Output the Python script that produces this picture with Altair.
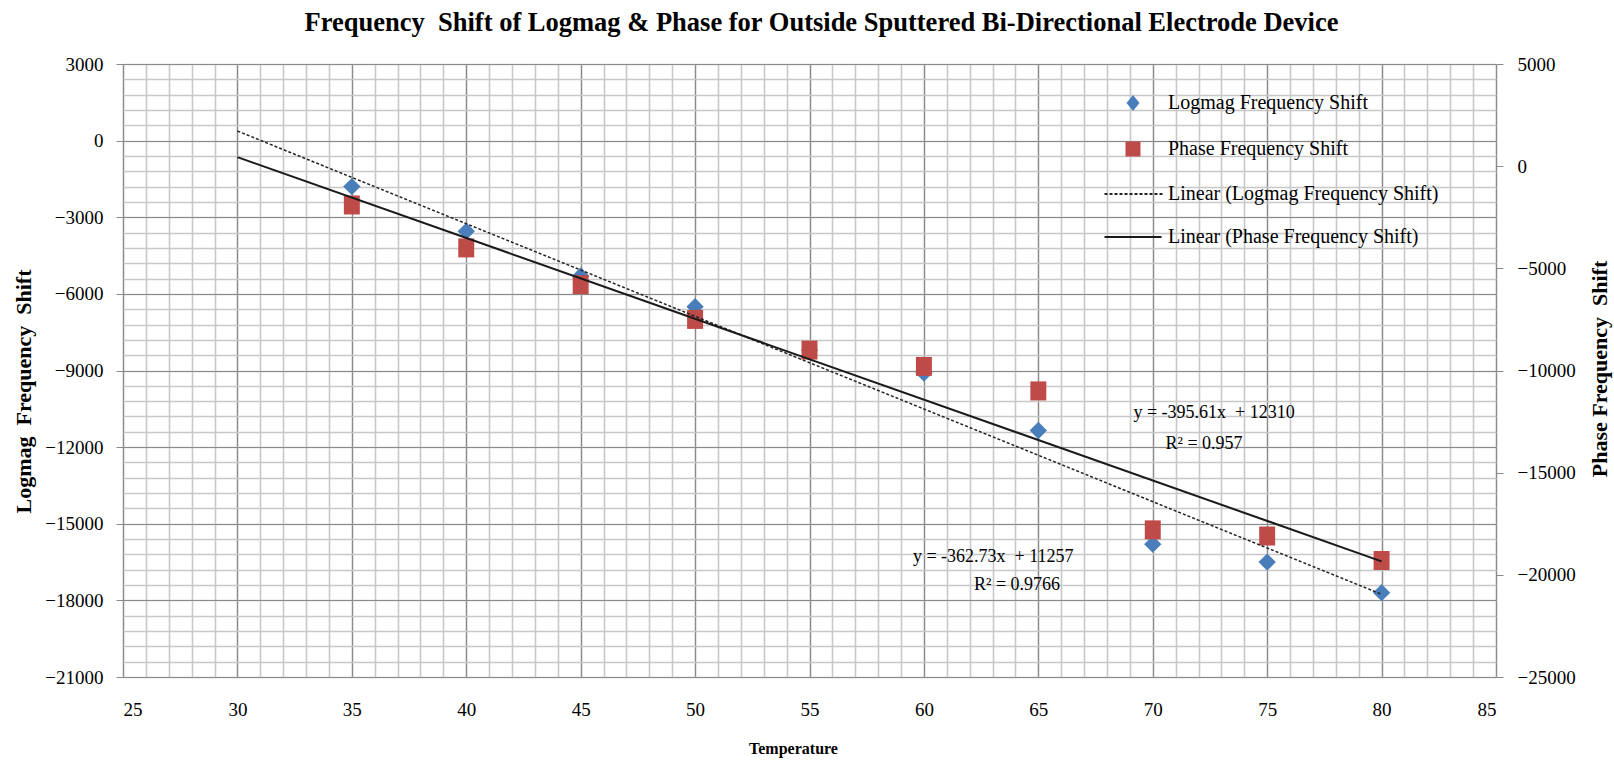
import altair as alt
import pandas as pd

# ---------------- data ----------------
temps = [35, 40, 45, 50, 55, 60, 65, 70, 75, 80]
logmag = [-1800, -3550, -5300, -6500, -8200, -9100, -11350, -15800, -16500, -17700]
phase = [-1900, -4000, -5800, -7500, -9000, -9800, -11000, -17800, -18100, -19300]

logmag_slope, logmag_intercept = -362.73, 11257
phase_slope, phase_intercept = -395.61, 12310
trend_x = [30, 80]

x_domain = [25, 85]
left_domain = [-21000, 3000]
right_domain = [-25000, 5000]
x_major = list(range(25, 86, 5))
x_minor = list(range(25, 86, 1))
left_major = list(range(-21000, 3001, 3000))
left_minor = list(range(-21000, 3001, 600))
right_major = list(range(-25000, 5001, 5000))

series_names = ["Logmag Frequency Shift", "Phase Frequency Shift",
                "Linear (Logmag Frequency Shift)", "Linear (Phase Frequency Shift)"]

NB = "\u00a0"
ann_text = [f"y = -395.61x{NB} + 12310", "R² = 0.957", f"y = -362.73x{NB} + 11257", "R² = 0.9766"]
ann_x = [72.68, 72.24, 63.03, 64.07]
ann_y = [-10664, -11862, -16298, -17386]

title_text = f"Frequency{NB} Shift of Logmag & Phase for Outside Sputtered Bi-Directional Electrode Device"
left_title = f"Logmag{NB} Frequency{NB} Shift"
right_title = f"Phase Frequency{NB} Shift"

# ---------------- styles ----------------
FONT = "Liberation Serif"
BLUE = "#4A7EBB"
RED = "#BE4B48"
MAJOR = "#8a8a8a"
MINOR = "#c8c8c8"
LBL = dict(labelFont=FONT, labelFontSize=19, labelColor="black", format="d")

W, H = 1373, 613

df_log = pd.DataFrame({"t": temps, "v": logmag})
df_ph = pd.DataFrame({"t": temps, "v": phase})
df_trend = pd.DataFrame({"t": trend_x})
df_ann = pd.DataFrame({"text": ann_text, "x": ann_x, "y": ann_y})
df_leg = pd.DataFrame({"s": series_names})

xs = alt.Scale(domain=x_domain, nice=False, zero=False)
ls = alt.Scale(domain=left_domain, nice=False, zero=False)
rs = alt.Scale(domain=right_domain, nice=False, zero=False)

# minor grid layer (invisible marks, carries minor grid axes)
minor = alt.Chart(df_log).mark_point(opacity=0).encode(
    x=alt.X("t:Q", scale=xs, axis=alt.Axis(values=x_minor, grid=True, gridColor=MINOR, gridWidth=1.6,
                                           labels=False, ticks=False, domain=False, title=None,
                                           orient="bottom")),
    y=alt.Y("v:Q", scale=ls, axis=alt.Axis(values=left_minor, grid=True, gridColor=MINOR, gridWidth=1.6,
                                           labels=False, ticks=False, domain=False, title=None,
                                           orient="left")),
)

diamond = "M0,-1L1,0L0,1L-1,0Z"
rect = "M-0.84,-1L0.84,-1L0.84,1L-0.84,1Z"

log_pts = alt.Chart(df_log).mark_point(filled=True, shape=diamond, size=300, color=BLUE, opacity=1).encode(
    x=alt.X("t:Q", scale=xs, axis=alt.Axis(values=x_major, grid=True, gridColor=MAJOR, gridWidth=1.2,
                                           ticks=False, domain=False, labelPadding=23, orient="bottom",
                                           title="Temperature", titleFont=FONT, titleFontSize=16,
                                           titleFontWeight="bold", titleX=670, titleY=71,
                                           titleBaseline="middle", titleAlign="center",
                                           titleColor="black", **LBL)),
    y=alt.Y("v:Q", scale=ls, axis=alt.Axis(values=left_major, grid=True, gridColor=MAJOR, gridWidth=1.2,
                                           ticks=True, tickColor=MAJOR, tickSize=7, domain=False,
                                           labelPadding=13, orient="left",
                                           title=left_title, titleFont=FONT,
                                           titleFontSize=22, titleFontWeight="bold",
                                           titleAngle=270, titleX=-100, titleY=327,
                                           titleAlign="center", titleBaseline="middle",
                                           titleColor="black", **LBL)),
)

ph_pts = alt.Chart(df_ph).mark_point(filled=True, shape=rect, size=361, color=RED, opacity=1).encode(
    x=alt.X("t:Q", scale=xs, axis=None),
    y=alt.Y("v:Q", scale=rs, axis=alt.Axis(values=right_major, grid=False, ticks=True, tickColor=MAJOR,
                                           tickSize=7, domain=False, labelPadding=14, orient="right",
                                           title=right_title, titleFont=FONT,
                                           titleFontSize=22, titleFontWeight="bold",
                                           titleAngle=270, titleX=103, titleY=H / 2 - 2,
                                           titleAlign="center", titleBaseline="middle",
                                           titleColor="black", **LBL)),
)

log_trend = alt.Chart(df_trend).transform_calculate(
    v=f"{logmag_slope}*datum.t + {logmag_intercept}"
).mark_line(color="#222222", strokeWidth=1.5, strokeDash=[3, 2]).encode(
    x=alt.X("t:Q", scale=xs, axis=None),
    y=alt.Y("v:Q", scale=ls, axis=None),
)

ph_trend = alt.Chart(df_trend).transform_calculate(
    v=f"{phase_slope}*datum.t + {phase_intercept}"
).mark_line(color="#1a1a1a", strokeWidth=2).encode(
    x=alt.X("t:Q", scale=xs, axis=None),
    y=alt.Y("v:Q", scale=rs, axis=None),
)

ann = alt.Chart(df_ann).mark_text(font=FONT, fontSize=18, color="black", align="center",
                                  baseline="middle").encode(
    x=alt.X("x:Q", scale=xs, axis=None),
    y=alt.Y("y:Q", scale=ls, axis=None),
    text="text:N",
)

# legend (custom symbols)
L = 2.85
dash_path = "".join(f"M{(-L + i * 0.5):.2f},0h0.3" for i in range(12))
solid_path = f"M{-L},0L{L},0"
leg_diamond = "M0,-0.8L0.65,0L0,0.8L-0.65,0Z"
leg_square = "M-0.75,-0.75L0.75,-0.75L0.75,0.75L-0.75,0.75Z"

leg_common = dict(orient="none", legendX=999, legendY=28, title=None, labelFont=FONT,
                  labelFontSize=20, labelColor="black", labelOffset=24, rowPadding=22,
                  symbolSize=400, symbolStrokeWidth=1.8, symbolOpacity=1, padding=0, labelLimit=400)

legend_layer = alt.Chart(df_leg).transform_filter("false").mark_point(
    filled=True, strokeWidth=1.8, opacity=1).encode(
    x=alt.value(0), y=alt.value(0),
    shape=alt.Shape("s:N", scale=alt.Scale(domain=series_names,
                                           range=[leg_diamond, leg_square, dash_path, solid_path]),
                    legend=alt.Legend(**leg_common)),
    fill=alt.Fill("s:N", scale=alt.Scale(domain=series_names,
                                         range=[BLUE, RED, "transparent", "transparent"]),
                  legend=alt.Legend(**leg_common)),
    stroke=alt.Stroke("s:N", scale=alt.Scale(domain=series_names,
                                             range=["transparent", "transparent", "#222222", "#1a1a1a"]),
                      legend=alt.Legend(**leg_common)),
)

chart = alt.layer(minor, log_pts, ph_pts, log_trend, ph_trend, ann, legend_layer).resolve_scale(
    x="independent", y="independent"
).properties(
    width=W, height=H,
    padding={"left": 123, "top": 64, "right": 118, "bottom": 86},
    autosize=alt.AutoSizeParams(type="none"),
    background="white",
    title=alt.TitleParams(title_text, font=FONT, fontSize=26.5, fontWeight="bold", anchor="middle",
                          dx=12, offset=19, color="black"),
).configure_view(stroke=None)

chart.save("out.html", embed_options={"renderer": "svg", "actions": False})
